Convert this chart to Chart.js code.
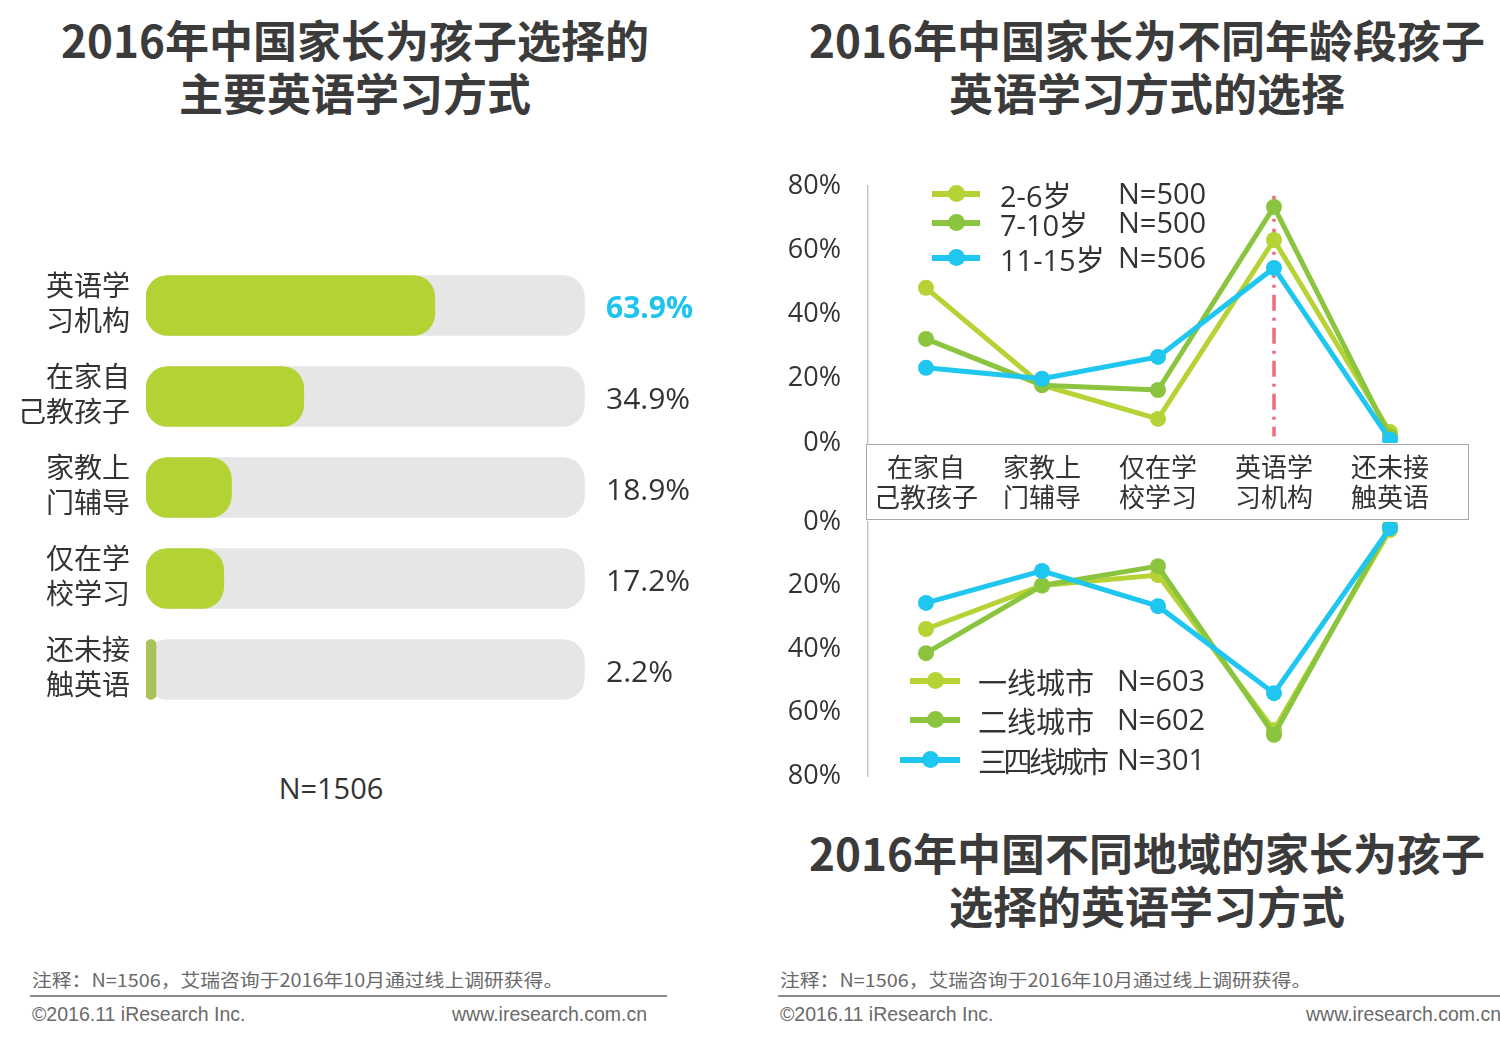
<!DOCTYPE html>
<html><head><meta charset="utf-8">
<script src="https://cdn.jsdelivr.net/npm/chart.js@4"></script>
<style>
html,body{margin:0;padding:0;background:#fff;}
body{width:1500px;height:1038px;position:relative;overflow:hidden;font-family:"Open Sans","Noto Sans CJK SC",sans-serif;color:#333;}
.abs{position:absolute;}
.title{position:absolute;font-family:"Noto Sans CJK SC",sans-serif;font-weight:bold;font-size:44px;line-height:53px;color:#3b3b3b;text-align:center;white-space:nowrap;}
.note{position:absolute;font-family:"Noto Sans CJK SC",sans-serif;font-size:18px;color:#6a6a6a;white-space:nowrap;transform:scaleX(1.1);transform-origin:0 0;}
.foot{position:absolute;font-family:"Liberation Sans",sans-serif;font-size:19.5px;color:#6a6a6a;white-space:nowrap;}
.hr{position:absolute;height:2px;background:#8a8a8a;}
canvas{position:absolute;}
.leg{position:absolute;font-size:29px;color:#333;white-space:nowrap;font-family:"Open Sans","Noto Sans CJK SC",sans-serif;}
.leg .row{position:absolute;left:0;height:34px;}
.leg .ln{position:absolute;height:6px;}
.leg .dot{position:absolute;width:17px;height:17px;border-radius:50%;}
.leg .t1,.leg .t2{position:absolute;top:-4px;}
</style></head>
<body>
<div class="title" style="left:0;width:710px;top:13px;">2016年中国家长为孩子选择的<br>主要英语学习方式</div>
<div class="title" style="left:790px;width:714px;top:13px;">2016年中国家长为不同年龄段孩子<br>英语学习方式的选择</div>
<div class="title" style="left:790px;width:714px;top:826px;">2016年中国不同地域的家长为孩子<br>选择的英语学习方式</div>

<canvas id="bar" style="left:0;top:250px;" width="720" height="470"></canvas>
<div class="abs" style="left:231px;width:200px;top:768px;text-align:center;font-size:29px;color:#333;">N=1506</div>

<div class="abs" style="left:866px;top:444px;width:601px;height:74px;border:1px solid #a8a8a8;"></div>
<canvas id="top" style="left:760px;top:160px;" width="740" height="370"></canvas>
<canvas id="bot" style="left:760px;top:500px;" width="740" height="300"></canvas>

<div class="leg" id="legTop" style="left:930px;top:177px;"></div>
<div class="leg" id="legBot" style="left:900px;top:664px;"></div>

<div class="note" style="left:32px;top:966px;">注释：N=1506，艾瑞咨询于2016年10月通过线上调研获得。</div>
<div class="hr" style="left:30px;top:995px;width:637px;"></div>
<div class="foot" style="left:32px;top:1003px;">©2016.11 iResearch Inc.</div>
<div class="foot" style="left:452px;top:1003px;">www.iresearch.com.cn</div>

<div class="note" style="left:780px;top:966px;">注释：N=1506，艾瑞咨询于2016年10月通过线上调研获得。</div>
<div class="hr" style="left:778px;top:995px;width:722px;"></div>
<div class="foot" style="left:780px;top:1003px;">©2016.11 iResearch Inc.</div>
<div class="foot" style="left:1306px;top:1003px;">www.iresearch.com.cn</div>

<script>
// ---------- data ----------
const barCategories = [["英语学","习机构"],["在家自","己教孩子"],["家教上","门辅导"],["仅在学","校学习"],["还未接","触英语"]];
const barValues = [63.9, 34.9, 18.9, 17.2, 2.2];
const barTrack = [97, 97, 97, 97, 97];
const barLabelColors = ["#1ec3ee", "#333333", "#333333", "#333333", "#333333"];
const barColors = ["#b3d234", "#b3d234", "#b3d234", "#b3d234", "#a9c35a"];

const lineCategories = [["在家自","己教孩子"],["家教上","门辅导"],["仅在学","校学习"],["英语学","习机构"],["还未接","触英语"]];
const ageNames = ["2-6岁", "7-10岁", "11-15岁"];
const ageN = ["N=500", "N=500", "N=506"];
const age2to6 = [48.3, 18.0, 7.5, 63.2, 3.4];
const age7to10 = [32.4, 18.0, 16.5, 73.5, 2.0];
const age11to15 = [23.4, 20.0, 26.8, 54.5, 1.0];

const cityNames = ["一线城市", "二线城市", "三四线城市"];
const cityN = ["N=603", "N=602", "N=301"];
const city1 = [33.7, 20.0, 16.7, 65.5, 2.5];
const city2 = [41.3, 20.0, 13.9, 67.0, 1.3];
const city34 = [25.5, 15.4, 26.5, 53.9, 1.9];

const yTicks = [0, 20, 40, 60, 80];
const seriesColors = ["#b5d334", "#8bc43f", "#1fc6f0"];

const FONT = '"Open Sans","Noto Sans CJK SC",sans-serif';

// ---------- bar chart ----------
const valueLabelPlugin = {
  id: 'valueLabels',
  afterDatasetsDraw(chart) {
    const ctx = chart.ctx;
    const meta = chart.getDatasetMeta(0);
    ctx.save();
    ctx.textBaseline = 'middle';
    ctx.textAlign = 'left';
    meta.data.forEach((el, i) => {
      ctx.font = (i === 0 ? 'bold ' : '') + '30px ' + FONT;
      ctx.fillStyle = barLabelColors[i];
      ctx.fillText(barValues[i].toFixed(1) + '%', chart.chartArea.right + 8, el.y + 4);
    });
    ctx.restore();
  }
};
new Chart(document.getElementById('bar'), {
  type: 'bar',
  data: {
    labels: barCategories,
    datasets: [
      {data: barValues, backgroundColor: barColors, barThickness: 60, borderRadius: 22, borderSkipped: false, grouped: false},
      {data: barTrack, backgroundColor: '#e6e6e6', barThickness: 60, borderRadius: 22, borderSkipped: false, grouped: false}
    ]
  },
  options: {
    indexAxis: 'y',
    responsive: false, animation: false,
    layout: {padding: {top: 10, bottom: 5, left: 0, right: 122}},
    plugins: {legend: {display: false}, tooltip: {enabled: false}},
    scales: {
      x: {min: 0, max: 100, display: false},
      y: {
        grid: {display: false, drawTicks: false}, border: {display: false},
        ticks: {color: '#333', font: {family: FONT, size: 28, lineHeight: 1.22}, padding: 16},
        afterFit(s) { s.width = 146; s.paddingTop = 0; s.paddingBottom = 0; }
      }
    }
  },
  plugins: [valueLabelPlugin]
});

// ---------- line charts ----------
function mkDatasets(arrs, names) {
  return arrs.map((d, i) => ({
    label: names[i], data: d, borderColor: seriesColors[i], backgroundColor: seriesColors[i],
    borderWidth: 5, pointRadius: 8, pointBorderWidth: 0, pointHoverRadius: 8, tension: 0
  })).reverse();
}
const refLinePlugin = {
  id: 'refLine',
  beforeDatasetsDraw(chart) {
    const {ctx, scales: {x, y}} = chart;
    const px = x.getPixelForValue(3);
    ctx.save();
    ctx.strokeStyle = '#ee6e7e';
    ctx.lineWidth = 3.5;
    ctx.setLineDash([16, 7, 3, 7]);
    ctx.beginPath();
    ctx.moveTo(px, y.getPixelForValue(77));
    ctx.lineTo(px, y.getPixelForValue(2));
    ctx.stroke();
    ctx.restore();
  }
};
const yScaleCommon = (reverse) => ({
  min: 0, max: 80, reverse: reverse,
  afterBuildTicks(s) { s.ticks = yTicks.map(v => ({value: v})); },
  grid: {display: false, drawTicks: false},
  border: {display: true, color: '#c8c8c8', width: 1.5},
  ticks: {color: '#333', font: {family: FONT, size: 27}, padding: 27, callback: v => v + '%'},
  afterFit(s) { s.width = 108; s.paddingTop = 0; s.paddingBottom = 0; }
});

new Chart(document.getElementById('top'), {
  type: 'line',
  data: {labels: lineCategories, datasets: mkDatasets([age2to6, age7to10, age11to15], ageNames)},
  options: {
    responsive: false, animation: false,
    layout: {padding: {top: 26, bottom: 0, left: 0, right: 52}},
    plugins: {legend: {display: false}, tooltip: {enabled: false}},
    scales: {
      x: {
        offset: true,
        grid: {display: false, drawTicks: false}, border: {display: false},
        ticks: {color: '#333', font: {family: FONT, size: 26, lineHeight: 1.18}, padding: 11, maxRotation: 0, autoSkip: false},
        afterFit(s) { s.height = 87; s.paddingLeft = 0; s.paddingRight = 0; }
      },
      y: yScaleCommon(false)
    }
  },
  plugins: [refLinePlugin]
});

new Chart(document.getElementById('bot'), {
  type: 'line',
  data: {labels: lineCategories, datasets: mkDatasets([city1, city2, city34], cityNames)},
  options: {
    responsive: false, animation: false,
    layout: {padding: {top: 22, bottom: 24, left: 0, right: 52}},
    plugins: {legend: {display: false}, tooltip: {enabled: false}},
    scales: {
      x: {offset: true, display: false},
      y: yScaleCommon(true)
    }
  }
});

// ---------- HTML legends ----------
function buildLegend(id, names, ns, rowsY, lineX, lineW, textX, nX, spacing) {
  const el = document.getElementById(id);
  names.forEach((nm, i) => {
    const r = document.createElement('div');
    r.className = 'row';
    r.style.top = rowsY[i] + 'px';
    r.innerHTML =
      `<div class="ln" style="left:${lineX[i]}px;width:${lineW[i]}px;top:14px;background:${seriesColors[i]}"></div>` +
      `<div class="dot" style="left:${lineX[i] + lineW[i] / 2 - 8.5}px;top:8px;background:${seriesColors[i]}"></div>` +
      `<span class="t1" style="left:${textX}px;letter-spacing:${spacing[i]}px">${nm}</span>` +
      `<span class="t2" style="left:${nX}px">${ns[i]}</span>`;
    el.appendChild(r);
  });
}
buildLegend('legTop', ageNames, ageN, [0, 29, 64], [2, 2, 2], [48, 48, 48], 70, 188, [0, 0, 0]);
buildLegend('legBot', cityNames, cityN, [0, 39, 79], [10, 10, 0], [50, 50, 60], 78, 217, [0, 0, -3.5]);
</script>
</body></html>
